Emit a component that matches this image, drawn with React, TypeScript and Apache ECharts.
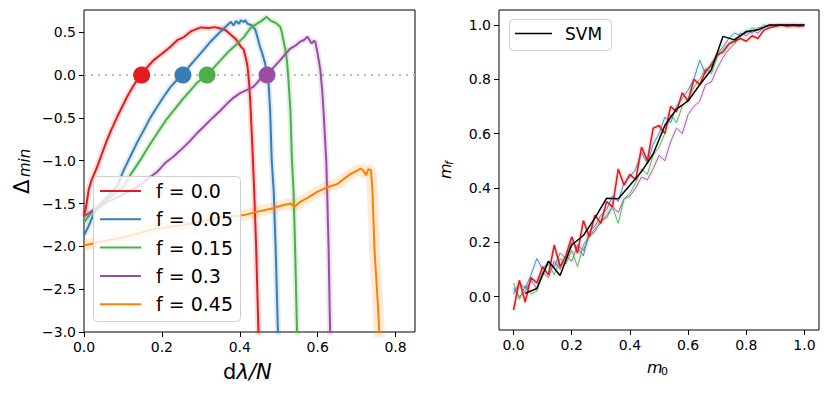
import React, { useEffect, useRef } from 'react';
import * as echarts from 'echarts';

// ---------- Left panel data ----------
const fLabels = ['f = 0.0', 'f = 0.05', 'f = 0.15', 'f = 0.3', 'f = 0.45'];
const fColors = ['#e41a1c', '#377eb8', '#4daf4a', '#984ea3', '#ff7f00'];

const curveF000 = [[0,-1.65],[0.005,-1.55],[0.012,-1.34],[0.02,-1.22],[0.034,-1.07],[0.045,-0.93],[0.059,-0.76],[0.07,-0.64],[0.085,-0.49],[0.098,-0.37],[0.111,-0.25],[0.125,-0.14],[0.135,-0.07],[0.148,0],[0.16,0.08],[0.179,0.175],[0.2,0.25],[0.222,0.33],[0.24,0.41],[0.255,0.44],[0.274,0.51],[0.29,0.54],[0.30,0.557],[0.32,0.55],[0.335,0.56],[0.351,0.545],[0.365,0.52],[0.377,0.47],[0.39,0.42],[0.403,0.33],[0.41,0.30],[0.415,0.21],[0.42,0.10],[0.424,-0.09],[0.428,-0.4],[0.432,-0.8],[0.437,-1.34],[0.442,-2.0],[0.448,-3.0],[0.45,-3.2]];
const curveF005 = [[0,-1.87],[0.01,-1.78],[0.025,-1.62],[0.04,-1.52],[0.06,-1.42],[0.085,-1.30],[0.1,-1.13],[0.119,-0.95],[0.135,-0.80],[0.154,-0.64],[0.17,-0.50],[0.188,-0.37],[0.205,-0.25],[0.222,-0.14],[0.238,-0.06],[0.254,0.0],[0.27,0.10],[0.291,0.21],[0.31,0.31],[0.325,0.39],[0.34,0.46],[0.351,0.51],[0.365,0.57],[0.377,0.62],[0.384,0.58],[0.39,0.63],[0.398,0.6],[0.403,0.64],[0.41,0.62],[0.414,0.64],[0.42,0.6],[0.431,0.58],[0.44,0.53],[0.446,0.43],[0.452,0.33],[0.458,0.25],[0.465,0.137],[0.474,-0.097],[0.478,-0.41],[0.482,-0.99],[0.487,-1.34],[0.492,-2.0],[0.498,-3.0],[0.5,-3.2]];
const curveF015 = [[0,-1.72],[0.02,-1.6],[0.04,-1.52],[0.06,-1.45],[0.08,-1.38],[0.102,-1.30],[0.12,-1.16],[0.145,-0.99],[0.165,-0.84],[0.188,-0.68],[0.21,-0.53],[0.231,-0.41],[0.25,-0.30],[0.274,-0.175],[0.29,-0.09],[0.316,0],[0.33,0.07],[0.351,0.175],[0.37,0.27],[0.394,0.37],[0.41,0.44],[0.427,0.545],[0.444,0.60],[0.455,0.63],[0.469,0.68],[0.478,0.64],[0.487,0.62],[0.495,0.6],[0.504,0.565],[0.508,0.5],[0.512,0.41],[0.517,0.3],[0.521,0.175],[0.525,-0.05],[0.53,-0.41],[0.534,-0.99],[0.538,-1.34],[0.542,-2.0],[0.547,-3.0],[0.55,-3.2]];
const curveF030 = [[0,-1.65],[0.03,-1.56],[0.06,-1.48],[0.09,-1.42],[0.12,-1.35],[0.145,-1.28],[0.17,-1.19],[0.188,-1.13],[0.21,-1.02],[0.23,-0.95],[0.248,-0.876],[0.27,-0.78],[0.29,-0.68],[0.308,-0.60],[0.33,-0.50],[0.349,-0.42],[0.368,-0.33],[0.385,-0.26],[0.401,-0.21],[0.42,-0.17],[0.435,-0.137],[0.454,-0.04],[0.47,0],[0.487,0.09],[0.504,0.175],[0.518,0.25],[0.53,0.31],[0.545,0.35],[0.555,0.39],[0.565,0.41],[0.574,0.447],[0.58,0.40],[0.585,0.37],[0.59,0.40],[0.594,0.39],[0.6,0.25],[0.607,0.058],[0.612,-0.2],[0.615,-0.41],[0.622,-0.99],[0.624,-1.30],[0.628,-2.0],[0.632,-3.0],[0.634,-3.2]];
const curveF045 = [[0,-1.99],[0.04,-1.95],[0.085,-1.91],[0.13,-1.86],[0.171,-1.81],[0.21,-1.78],[0.257,-1.75],[0.3,-1.71],[0.342,-1.67],[0.38,-1.65],[0.411,-1.635],[0.44,-1.60],[0.48,-1.56],[0.51,-1.52],[0.531,-1.50],[0.54,-1.54],[0.555,-1.48],[0.575,-1.43],[0.60,-1.36],[0.625,-1.31],[0.651,-1.27],[0.665,-1.22],[0.686,-1.15],[0.70,-1.12],[0.711,-1.09],[0.718,-1.12],[0.724,-1.17],[0.73,-1.1],[0.737,-1.11],[0.741,-1.38],[0.746,-2.04],[0.754,-2.63],[0.758,-2.98],[0.76,-3.2]];
const leftCurves = [curveF000, curveF005, curveF015, curveF030, curveF045];
const zeroCrossX = [0.148, 0.254, 0.316, 0.470];

const leftXTicks = [0, 0.2, 0.4, 0.6, 0.8];
const leftYTicks = [-3, -2.5, -2, -1.5, -1, -0.5, 0, 0.5];

// ---------- Right panel data ----------
const m0Values = [0,0.02,0.04,0.06,0.08,0.1,0.12,0.14,0.16,0.18,0.2,0.22,0.24,0.26,0.28,0.3,0.32,0.34,0.36,0.38,0.4,0.42,0.44,0.46,0.48,0.5,0.52,0.54,0.56,0.58,0.6,0.62,0.64,0.66,0.68,0.7,0.72,0.74,0.76,0.78,0.8,0.82,0.84,0.86,0.88,0.9,0.92,0.94,0.96,0.98,1.0];
const mfRed = [-0.05,0.06,-0.02,0.07,0.05,0.11,0.08,0.19,0.11,0.15,0.22,0.16,0.28,0.22,0.30,0.27,0.35,0.33,0.47,0.41,0.45,0.43,0.55,0.50,0.62,0.63,0.60,0.70,0.68,0.75,0.72,0.80,0.78,0.83,0.85,0.89,0.90,0.93,0.94,0.95,0.94,0.96,0.95,0.98,0.99,0.995,1.0,0.995,0.998,0.995,0.997];
const mfBlue = [0.01,0.05,0.03,0.08,0.14,0.10,0.13,0.11,0.16,0.14,0.20,0.18,0.15,0.24,0.26,0.30,0.32,0.37,0.35,0.42,0.44,0.47,0.53,0.49,0.56,0.60,0.66,0.64,0.70,0.73,0.76,0.80,0.87,0.82,0.86,0.89,0.92,0.95,0.97,0.96,0.98,0.97,0.99,0.99,1.0,0.995,1.0,0.998,1.0,0.999,1.0];
const mfGreen = [0.05,-0.01,0.04,0.01,0.02,0.09,0.12,0.08,0.14,0.12,0.17,0.11,0.19,0.22,0.25,0.27,0.30,0.33,0.27,0.36,0.38,0.42,0.47,0.45,0.52,0.55,0.60,0.67,0.64,0.70,0.73,0.77,0.80,0.84,0.82,0.88,0.91,0.93,0.95,0.96,0.97,0.99,0.98,1.0,0.995,1.0,0.998,1.0,0.999,1.0,1.0];
const mfPurple = [0.03,0.0,0.02,0.06,0.03,0.09,0.07,0.13,0.10,0.15,0.13,0.19,0.17,0.22,0.24,0.28,0.29,0.33,0.31,0.36,0.37,0.40,0.44,0.43,0.47,0.52,0.50,0.57,0.62,0.60,0.67,0.70,0.72,0.78,0.79,0.84,0.88,0.91,0.93,0.97,0.96,0.98,0.97,0.99,1.0,0.998,1.0,0.999,1.0,1.0,1.0];
const svmM0 = [0.04,0.08,0.12,0.16,0.2,0.24,0.28,0.32,0.36,0.4,0.44,0.48,0.52,0.56,0.6,0.64,0.68,0.72,0.76,0.8,0.84,0.88,0.92,0.96,1.0];
const svmMf = [0.012,0.03,0.13,0.078,0.19,0.225,0.29,0.362,0.36,0.41,0.46,0.525,0.63,0.69,0.72,0.78,0.835,0.958,0.945,0.975,0.982,1.0,1.0,1.0,1.0];
const rightTicks = [0, 0.2, 0.4, 0.6, 0.8, 1.0];

const FONT = 'DejaVu Sans';

function fmt(v: number) {
  return v.toFixed(1).replace('-', '\u2212');
}

function axisCommon(ticks: number[]) {
  return {
    splitLine: { show: false },
    axisLine: { show: false, onZero: false },
    axisTick: { show: true, customValues: ticks, length: 5, lineStyle: { color: '#000', width: 1 } },
    axisLabel: {
      customValues: ticks,
      formatter: (v: number) => fmt(v),
      fontSize: 14,
      color: '#000',
      fontFamily: FONT,
      margin: 8,
    },
  };
}

export default function App() {
  const ref = useRef<HTMLDivElement>(null);
  useEffect(() => {
    document.body.style.margin = '0';
    const chart = echarts.init(ref.current!, null, { renderer: 'svg' });

    const series: any[] = [];
    // zero dotted line
    series.push({
      type: 'line', xAxisIndex: 0, yAxisIndex: 0, data: [[0, 0], [0.85, 0]],
      showSymbol: false, silent: true, z: 1,
      lineStyle: { color: '#bdbdbd', width: 2, type: [2, 5] },
    });
    const bandW = [6, 6, 6, 6, 11];
    leftCurves.forEach((c, i) => {
      series.push({
        type: 'line', xAxisIndex: 0, yAxisIndex: 0, data: c, showSymbol: false, silent: true,
        z: 2 + i, lineStyle: { color: fColors[i], width: bandW[i], opacity: 0.16 },
      });
      series.push({
        name: fLabels[i], type: 'line', xAxisIndex: 0, yAxisIndex: 0, data: c, showSymbol: false,
        z: 2 + i, lineStyle: { color: fColors[i], width: 2 },
      });
    });
    series.push({
      type: 'scatter', xAxisIndex: 0, yAxisIndex: 0, symbolSize: 17, z: 10,
      data: zeroCrossX.map((x, i) => ({ value: [x, 0], itemStyle: { color: fColors[i], opacity: 1 } })),
    });

    // right panel
    const rightSets = [mfRed, mfBlue, mfGreen, mfPurple];
    const rightOrder = [3, 2, 1, 0];
    rightOrder.forEach((i) => {
      const d = m0Values.map((x, k) => [x, rightSets[i][k]]);
      series.push({
        type: 'line', xAxisIndex: 1, yAxisIndex: 1, data: d, showSymbol: false, silent: true,
        z: 2, lineStyle: { color: fColors[i], width: 5, opacity: 0.08 },
      });
      series.push({
        type: 'line', xAxisIndex: 1, yAxisIndex: 1, data: d, showSymbol: false,
        z: 3, lineStyle: { color: fColors[i], width: i === 0 ? 1.6 : 0.9 },
      });
    });
    series.push({
      name: 'SVM', type: 'line', xAxisIndex: 1, yAxisIndex: 1,
      data: svmM0.map((x, k) => [x, svmMf[k]]), showSymbol: false, z: 6,
      lineStyle: { color: '#000', width: 1.5 },
    });

    const legendItems: any[] = [];
    legendItems.push({
      type: 'rect', shape: { x: 93.5, y: 176.5, width: 147, height: 145, r: 4 },
      style: { fill: 'rgba(255,255,255,0.8)', stroke: '#d0d0d0', lineWidth: 1 }, z: 100,
    });
    fLabels.forEach((lab, i) => {
      const y = 191 + i * 28.3;
      legendItems.push({ type: 'line', shape: { x1: 100, y1: y, x2: 141, y2: y }, style: { stroke: fColors[i], lineWidth: 2 }, z: 101 });
      legendItems.push({ type: 'text', x: 156, y, style: { text: lab, font: `19px "${FONT}"`, fill: '#000', align: 'left', verticalAlign: 'middle' }, z: 101 });
    });
    legendItems.push({
      type: 'rect', shape: { x: 509.5, y: 19.5, width: 102, height: 31, r: 4 },
      style: { fill: 'rgba(255,255,255,0.8)', stroke: '#d0d0d0', lineWidth: 1 }, z: 100,
    });
    legendItems.push({ type: 'line', shape: { x1: 515, y1: 33.5, x2: 552, y2: 33.5 }, style: { stroke: '#000', lineWidth: 1.5 }, z: 101 });
    legendItems.push({ type: 'text', x: 565, y: 34, style: { text: 'SVM', font: `17px "${FONT}"`, fill: '#000', align: 'left', verticalAlign: 'middle' }, z: 101 });

    // axis titles
    legendItems.push({
      type: 'group', x: 249, y: 372,
      children: [
        { type: 'text', x: -26, y: 0, style: { text: 'd', font: `21px "${FONT}"`, fill: '#000', align: 'left', verticalAlign: 'middle' } },
        { type: 'text', x: -12.5, y: 0, style: { text: '\u03bb/N', font: `italic 21px "${FONT}"`, fill: '#000', align: 'left', verticalAlign: 'middle' } },
      ],
    });
    legendItems.push({
      type: 'group', x: 22, y: 171, rotation: Math.PI / 2,
      children: [
        { type: 'text', x: -23, y: 0, style: { text: '\u0394', font: `21px "${FONT}"`, fill: '#000', align: 'left', verticalAlign: 'middle' } },
        { type: 'text', x: -6, y: 3, style: { text: 'min', font: `italic 15px "${FONT}"`, fill: '#000', align: 'left', verticalAlign: 'middle' } },
      ],
    });
    legendItems.push({
      type: 'group', x: 445, y: 170, rotation: Math.PI / 2,
      children: [
        { type: 'text', x: -9, y: 0, style: { text: 'm', font: `italic 16px "${FONT}"`, fill: '#000', align: 'left', verticalAlign: 'middle' } },
        { type: 'text', x: 5, y: 4, style: { text: 'f', font: `italic 11px "${FONT}"`, fill: '#000', align: 'left', verticalAlign: 'middle' } },
      ],
    });
    legendItems.push({
      type: 'group', x: 659, y: 367,
      children: [
        { type: 'text', x: -12, y: 0, style: { text: 'm', font: `italic 16px "${FONT}"`, fill: '#000', align: 'left', verticalAlign: 'middle' } },
        { type: 'text', x: 2, y: 4, style: { text: '0', font: `11px "${FONT}"`, fill: '#000', align: 'left', verticalAlign: 'middle' } },
      ],
    });

    chart.setOption({
      animation: false,
      backgroundColor: '#fff',
      grid: [
        { left: 84, top: 10, width: 331, height: 322, show: true, borderColor: '#000', borderWidth: 1, containLabel: false },
        { left: 499, top: 10, width: 320, height: 320, show: true, borderColor: '#000', borderWidth: 1, containLabel: false },
      ],
      xAxis: [
        { type: 'value', gridIndex: 0, min: 0, max: 0.85, ...axisCommon(leftXTicks) },
        { type: 'value', gridIndex: 1, min: -0.05, max: 1.05, ...axisCommon(rightTicks) },
      ],
      yAxis: [
        { type: 'value', gridIndex: 0, min: -3, max: 0.76, ...axisCommon(leftYTicks) },
        { type: 'value', gridIndex: 1, min: -0.123, max: 1.055, ...axisCommon(rightTicks) },
      ],
      series,
      graphic: legendItems,
    });
    return () => chart.dispose();
  }, []);
  return <div ref={ref} style={{ width: 830, height: 395 }} />;
}
